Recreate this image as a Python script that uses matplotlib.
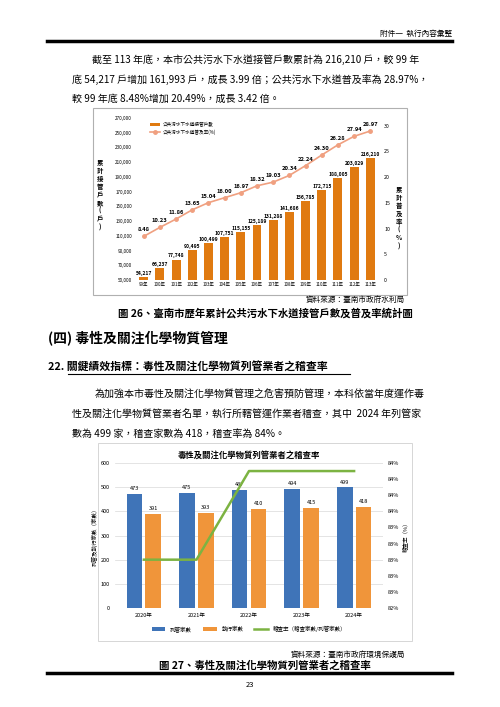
import numpy as np
import matplotlib.pyplot as plt
from matplotlib.patches import Rectangle
from matplotlib.lines import Line2D

plt.rcParams['font.family'] = ['Noto Sans CJK TC', 'DejaVu Sans']

# chart 1 data
years1 = ['99年', '100年', '101年', '102年', '103年', '104年', '105年', '106年',
          '107年', '108年', '109年', '110年', '111年', '112年', '113年']
households = [54217, 66237, 77748, 90495, 100499, 107751, 115155, 125189,
              131288, 141686, 156785, 172715, 188005, 203029, 216210]
coverage = [8.48, 10.23, 11.86, 13.65, 15.04, 16.00, 16.97, 18.32,
            19.03, 20.34, 22.24, 24.30, 26.28, 27.94, 28.97]

# chart 2 data
years2 = ['2020年', '2021年', '2022年', '2023年', '2024年']
listed = [473, 475, 487, 494, 499]
inspected = [391, 393, 410, 415, 418]
rate = [83.0, 83.0, 84.1, 84.1, 84.1]

W, H = 500, 707
fig = plt.figure(figsize=(5, 7.07), dpi=100)


def fx(x):
    return x / W


def fy(y):
    return 1 - y / H


def box(x0, y0, x1, y1):
    return [fx(x0), fy(y1), fx(x1) - fx(x0), fy(y0) - fy(y1)]


def txt(x, y, s, **kw):
    kw.setdefault('fontsize', 7.2)
    kw.setdefault('va', 'center')
    fig.text(fx(x), fy(y), s, **kw)


# page header / footer
txt(452, 34, '附件一  執行內容彙整', fontsize=5.5, ha='right')
fig.add_artist(Line2D([fx(47), fx(452)], [fy(41), fy(41)], color='black', lw=2.5))
fig.add_artist(Line2D([fx(47), fx(452)], [fy(673), fy(673)], color='black', lw=2.5))
txt(250, 685, '23', fontsize=5.5, ha='center')

txt(92, 60, '截至 113 年底，本市公共污水下水道接管戶數累計為 216,210 戶，較 99 年')
txt(72, 80, '底 54,217 戶增加 161,993 戶，成長 3.99 倍；公共污水下水道普及率為 28.97%，')
txt(72, 99, '較 99 年底 8.48%增加 20.49%，成長 3.42 倍。')

txt(405, 300, '資料來源：臺南市政府水利局', fontsize=5.5, ha='right')
txt(265, 313, '圖 26、臺南市歷年累計公共污水下水道接管戶數及普及率統計圖', fontsize=7.5,
    ha='center', fontweight='bold')
txt(48, 338, '(四) 毒性及關注化學物質管理', fontsize=10, fontweight='bold')
txt(48, 367, '22. 關鍵績效指標：毒性及關注化學物質列管業者之稽查率', fontsize=7.8,
    fontweight='bold')
fig.add_artist(Line2D([fx(68), fx(350)], [fy(374), fy(374)], color='black', lw=0.8))
txt(95, 395, '為加強本市毒性及關注化學物質管理之危害預防管理，本科依當年度運作毒')
txt(72, 415, '性及關注化學物質管業者名單，執行所轄管運作業者稽查，其中  2024 年列管家')
txt(72, 434, '數為 499 家，稽查家數為 418，稽查率為 84%。')

txt(405, 655, '資料來源：臺南市政府環境保護局', fontsize=5.5, ha='right')
txt(265, 665, '圖 27、毒性及關注化學物質列管業者之稽查率', fontsize=7.5,
    ha='center', fontweight='bold')

# frames
fig.add_artist(Rectangle((fx(93), fy(295)), fx(407) - fx(93), fy(108) - fy(295),
                         fill=False, ec='#b0b0b0', lw=0.8, transform=fig.transFigure))
fig.add_artist(Rectangle((fx(98), fy(641)), fx(412) - fx(98), fy(443) - fy(641),
                         fill=False, ec='#d0d0d0', lw=0.6, transform=fig.transFigure))

# ---- chart 1 ----
ax = fig.add_axes(box(134, 118, 380, 280))
x = np.arange(len(years1))
ax.bar(x, households, width=0.55, color='#e07a10', label='公共污水下水道接管戶數')
ax.set_ylim(50000, 270000)
ax.set_yticks(range(50000, 270001, 20000))
ax.set_yticklabels([f'{v:,}' for v in range(50000, 270001, 20000)], fontsize=3.3)
ax.set_xticks(x)
ax.set_xticklabels(years1, fontsize=3.2)
ax.set_xlim(-0.6, len(years1) - 0.4)
for s in ax.spines.values():
    s.set_visible(False)
ax.tick_params(length=0, pad=1.5)
for xi, v in zip(x, households):
    ax.text(xi, v + 1500, f'{v:,}', ha='center', va='bottom', fontsize=3.6, fontweight='bold')
ax2 = ax.twinx()
ax2.plot(x, coverage, color='#f0a080', marker='o', ms=2.5, lw=1.2,
         label='公共污水下水道普及率(%)')
ax2.set_ylim(0, 31.5)
ax2.set_yticks(range(0, 31, 5))
ax2.tick_params(length=0, labelsize=3.8, pad=3)
for s in ax2.spines.values():
    s.set_visible(False)
for xi, v in zip(x, coverage):
    ax2.text(xi, v + 0.8, f'{v:.2f}', ha='center', va='bottom', fontsize=4.2, fontweight='bold')
h1, l1 = ax.get_legend_handles_labels()
h2, l2 = ax2.get_legend_handles_labels()
ax.legend(h1 + h2, l1 + l2, loc='upper left', bbox_to_anchor=(0.05, 1.0),
          fontsize=3.3, frameon=False)
txt(100, 195, '\n'.join('累計接管戶數(戶)'), fontsize=4.6, ha='center',
    fontweight='bold', linespacing=1.15)
txt(399, 218, '\n'.join('累計普及率(%)'), fontsize=4.6, ha='center',
    fontweight='bold', linespacing=1.15)

# ---- chart 2 ----
bx = fig.add_axes(box(115, 463, 383, 608))
x2 = np.arange(len(years2))
w = 0.3
bx.bar(x2 - 0.18, listed, width=w, color='#3f74b8', label='列管家數', zorder=2)
bx.bar(x2 + 0.18, inspected, width=w, color='#f0953a', label='執行家數', zorder=2)
for xi, a, b in zip(x2, listed, inspected):
    bx.text(xi - 0.18, a + 12, str(a), ha='center', va='bottom', fontsize=4)
    bx.text(xi + 0.18, b + 12, str(b), ha='center', va='bottom', fontsize=4)
bx.set_ylim(0, 600)
bx.set_yticks(range(0, 601, 100))
bx.set_xticks(x2)
bx.set_xticklabels(years2, fontsize=4)
bx.set_xlim(-0.55, 4.55)
bx.grid(axis='y', color='#d9d9d9', lw=0.5, zorder=0)
bx.tick_params(length=0, labelsize=4)
for s in bx.spines.values():
    s.set_visible(False)
bx.set_ylabel('列管及執行家數（家數）', fontsize=4, labelpad=2)
bx2 = bx.twinx()
bx2.plot(x2, rate, color='#7cb342', lw=1.8, label='稽查率（稽查家數/列管家數）')
bx2.set_ylim(82.4, 84.2)
rt = [82.4 + 0.2 * i for i in range(10)]
bx2.set_yticks(rt)
bx2.set_yticklabels([f'{v:.0f}%' for v in rt])
bx2.tick_params(length=0, labelsize=4)
for s in bx2.spines.values():
    s.set_visible(False)
bx2.set_ylabel('稽查率（%）', fontsize=4, labelpad=2)
bx.set_title('毒性及關注化學物質列管業者之稽查率', fontsize=6, fontweight='bold', pad=4)
h1, l1 = bx.get_legend_handles_labels()
h2, l2 = bx2.get_legend_handles_labels()
bx.legend(h1 + h2, l1 + l2, loc='upper center', bbox_to_anchor=(0.5, -0.09), ncol=3,
          fontsize=4, frameon=False, handlelength=2.5)

fig.savefig('out.png', dpi=100)
